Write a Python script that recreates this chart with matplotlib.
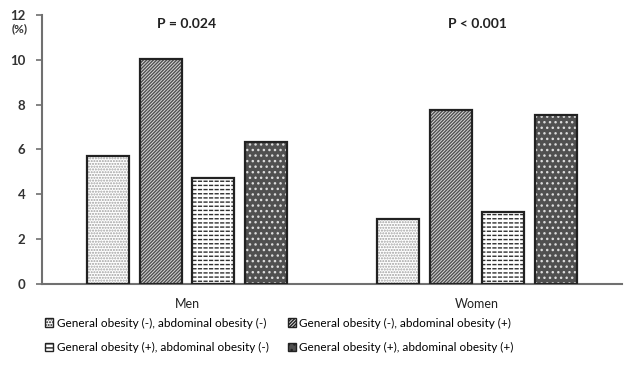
import matplotlib.pyplot as plt
import matplotlib.patches as mpatches
import numpy as np

plt.rcParams['font.family'] = ['Lato', 'DejaVu Sans']
plt.rcParams['hatch.linewidth'] = 1.0

groups = ["Men", "Women"]
p_labels = ["P = 0.024", "P < 0.001"]
series = [
    "General obesity (-), abdominal obesity (-)",
    "General obesity (-), abdominal obesity (+)",
    "General obesity (+), abdominal obesity (-)",
    "General obesity (+), abdominal obesity (+)",
]
values = [
    [5.7, 2.9],
    [10.05, 7.75],
    [4.75, 3.2],
    [6.35, 7.55],
]

# look of each series: face colour, hatch, hatch colour
styles = [
    ("white", "......", "#a0a0a0"),
    ("#d8d8d8", "//////////", "#505050"),
    ("white", "----", "#303030"),
    ("#505050", "...", "#dcdcdc"),
]

fig = plt.figure(figsize=(6.25, 3.75), dpi=100)
ax = fig.add_axes([0.0672, 0.2427, 0.928, 0.7173])

x = np.arange(len(groups))
pitch = 0.181
width = 0.145
handles = []
for i, (vals, (fc, hatch, hc)) in enumerate(zip(values, styles)):
    pos = x + (i - 1.5) * pitch
    ax.bar(pos, vals, width, color=fc, edgecolor=hc, hatch=hatch, linewidth=0, zorder=2)
    if i == 2:
        # break the lines into short dashes
        ax.bar(pos, vals, width, color="none", edgecolor="white", hatch="|||", linewidth=0, zorder=2.5)
    ax.bar(pos, vals, width, color="none", edgecolor="#222222", linewidth=1.6, zorder=3)
    handles.append(mpatches.Patch(facecolor=fc, edgecolor="#222222", hatch=hatch, linewidth=1.0))

for xi, p in zip(x, p_labels):
    ax.text(xi, 11.6, p, ha="center", va="center", fontsize=10, fontweight="bold", color="#222222")

ax.set_xlim(-0.5, 1.5)
ax.set_ylim(0, 12)
ax.set_yticks(range(0, 13, 2))
ax.set_xticks(x)
ax.set_xticklabels(groups, fontsize=9, color="#222222")
ax.tick_params(axis="x", length=0, pad=10)
ax.tick_params(axis="y", direction="out", length=4, width=1.2, color="#707070",
               labelsize=9.5, labelcolor="#333333", pad=8)
for lab in ax.get_yticklabels():
    lab.set_fontweight("bold")
for s in ["top", "right"]:
    ax.spines[s].set_visible(False)
for s in ["left", "bottom"]:
    ax.spines[s].set_color("#707070")
    ax.spines[s].set_linewidth(1.5)

fig.text(0.032, 1 - 29 / 375, "(%)", ha="center", va="center", fontsize=8.5,
         fontweight="bold", color="#333333")

order = [0, 2, 1, 3]
fig.legend([handles[k] for k in order], [series[k] for k in order], ncol=2,
           loc="center", bbox_to_anchor=(0.447, 1 - 335.5 / 375), frameon=False,
           fontsize=8.5, handlelength=0.7, handleheight=0.7, handletextpad=0.3,
           columnspacing=1.6, labelspacing=1.15, borderpad=0)

fig.savefig("out.png", dpi=100)
